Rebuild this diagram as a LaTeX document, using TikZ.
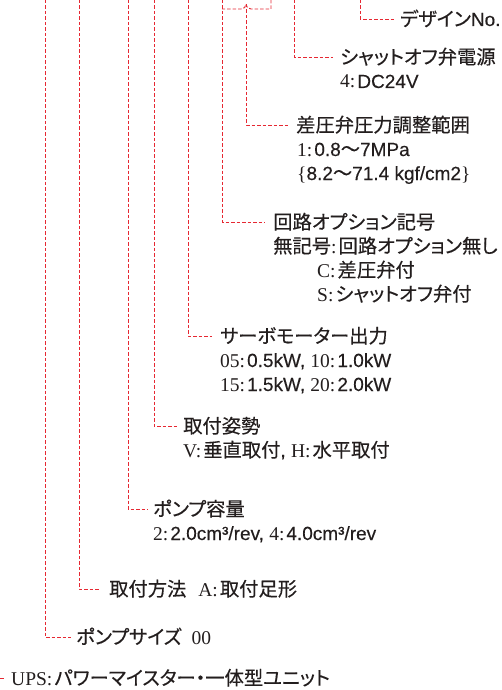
\documentclass[tikz,border=0pt]{standalone}
\usepackage{fontspec}
\setmainfont{Liberation Serif}
\newfontfamily\jpf{Noto Sans CJK JP}[RawFeature=+palt, FakeBold=0.35]
\newfontfamily\hvf{Liberation Sans}[FakeBold=0.3]
\definecolor{lred}{RGB}{230,40,50}
\definecolor{ink}{RGB}{35,30,30}
\newcommand\jt[1]{{\jpf\fontsize{19.3}{19}\selectfont #1}}
\newcommand\hs[1]{{\hvf\fontsize{19}{19}\selectfont #1}}
\newcommand\sr[1]{{\fontsize{19.5}{19}\selectfont #1}}
\newcommand\cl{{\fontsize{19.5}{19}\selectfont :}\hspace{2pt}}
\tikzset{
  lbl/.style={anchor=west, inner sep=0pt, text height=14pt, text depth=0pt, text=ink},
  lead/.style={draw=lred, line width=0.9pt, dash pattern=on 3.5pt off 2pt}
}
\begin{document}
\begin{tikzpicture}[x=1pt,y=-1pt]
\useasboundingbox (0,0) rectangle (502,690);
% top coordinates
\coordinate (c360) at (360,0);
\coordinate (c294) at (294,0);
\coordinate (c271) at (271,0);
\coordinate (c246) at (246,4);
\coordinate (c222) at (222,0);
\coordinate (b222) at (222,9);
\coordinate (c188) at (188,0);
\coordinate (c154) at (154,0);
\coordinate (c128) at (128,0);
\coordinate (c79) at (79,0);
\coordinate (c45) at (45,0);
\coordinate (cups) at (0,678);
% labels
\node[lbl] (dz) at (400,19) {\jt{デザイン}\hs{No.}};
\node[lbl] (sh) at (340,57) {\jt{シャットオフ弁電源}};
\node[lbl] (sh1) at (340,81) {\sr{4}\cl\hs{DC24V}};
\node[lbl] (sa) at (296,125) {\jt{差圧弁圧力調整範囲}};
\node[lbl] (sa1) at (297,149) {\sr{1}\cl\hs{0.8}\jt{～}\hs{7MPa}};
\node[lbl] (sa2) at (297,173) {\sr{\{}\hs{8.2}\jt{～}\hs{71.4 kgf/cm2}\sr{\}}};
\node[lbl] (kr) at (273,222) {\jt{回路オプション記号}};
\node[lbl] (kr1) at (273,246) {\jt{無記号}\cl\jt{回路オプション無し}};
\node[lbl] (kr2) at (317,270) {\sr{C}\cl\jt{差圧弁付}};
\node[lbl] (kr3) at (317,294) {\sr{S}\cl\jt{シャットオフ弁付}};
\node[lbl] (sv) at (220,336) {\jt{サーボモーター出力}};
\node[lbl] (sv1) at (220,360) {\sr{05}\cl\hs{0.5kW, }\sr{10}\cl\hs{1.0kW}};
\node[lbl] (sv2) at (220,384) {\sr{15}\cl\hs{1.5kW, }\sr{20}\cl\hs{2.0kW}};
\node[lbl] (ts) at (183,426) {\jt{取付姿勢}};
\node[lbl] (ts1) at (183,450) {\sr{V}\cl\jt{垂直取付}\hs{, }\sr{H}\cl\jt{水平取付}};
\node[lbl] (py) at (153,509) {\jt{ポンプ容量}};
\node[lbl] (py1) at (153,533) {\sr{2}\cl\hs{2.0cm³/rev, }\sr{4}\cl\hs{4.0cm³/rev}};
\node[lbl] (th) at (109,589) {\jt{取付方法}\hspace{12pt}\sr{A}\cl\jt{取付足形}};
\node[lbl] (ps) at (76,637) {\jt{ポンプサイズ}\hspace{10pt}\sr{00}};
\node[lbl] (ups) at (11,678) {\sr{UPS}\cl\jt{パワーマイスター・一体型ユニット}};
% leaders
\draw[lead] (c360) |- ([xshift=-5pt]dz.west);
\draw[lead] (c294) |- ([xshift=-7pt]sh.west);
\draw[lead] (c271) -- (271,9) -- (251,9) .. controls (248,9) and (246,7) .. (c246)
  .. controls (246,7) and (244,9) .. (241,9) -- (b222);
\draw[lead] (c246) |- ([xshift=-8pt]sa.west);
\draw[lead] (c222) |- ([xshift=-8pt]kr.west);
\draw[lead] (c188) |- ([xshift=-8pt]sv.west);
\draw[lead] (c154) |- ([xshift=-5pt]ts.west);
\draw[lead] (c128) |- ([xshift=-5pt]py.west);
\draw[lead] (c79) |- ([xshift=-9pt]th.west);
\draw[lead] (c45) |- ([xshift=-5pt]ps.west);
\draw[lead] (cups) -- ([xshift=-7pt]ups.west);
\end{tikzpicture}
\end{document}
